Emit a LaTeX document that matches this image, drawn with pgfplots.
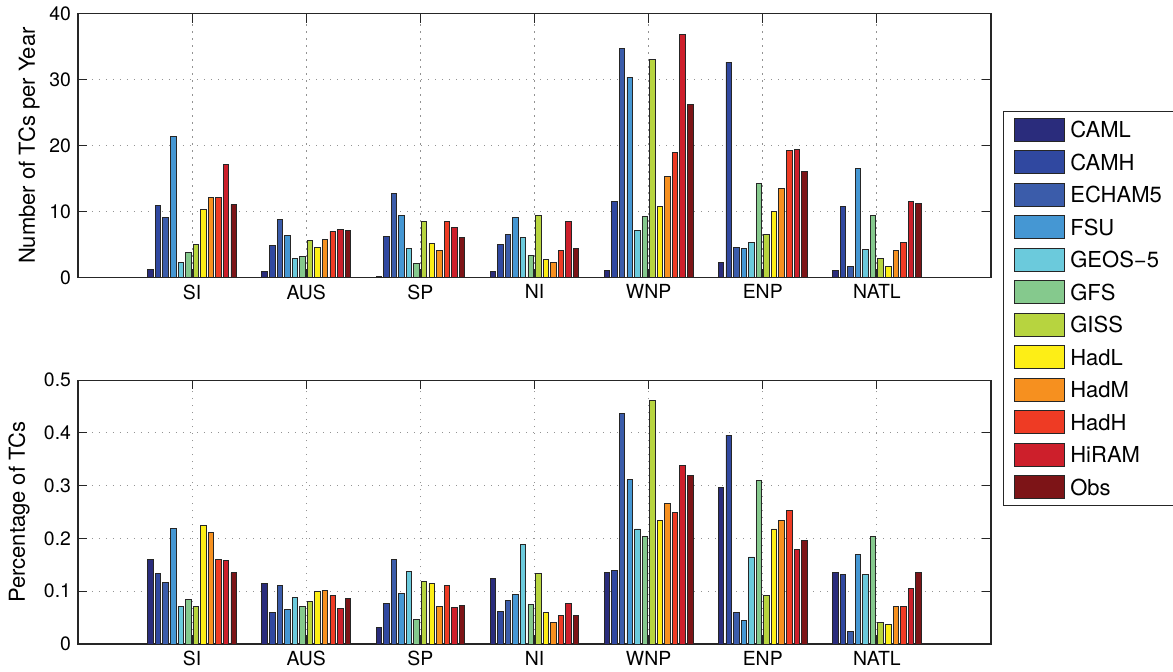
\documentclass[border=0pt]{standalone}
\usepackage{fontspec}
\setmainfont{TeX Gyre Heros}
\usepackage{pgfplots}
\usepackage{pgfplotstable}
\pgfplotsset{compat=1.18}

\definecolor{cCAML}{HTML}{2A2C7C}
\definecolor{cCAMH}{HTML}{3048A0}
\definecolor{cECHAM}{HTML}{3B5CAA}
\definecolor{cFSU}{HTML}{4597D3}
\definecolor{cGEOS}{HTML}{6BCADC}
\definecolor{cGFS}{HTML}{85C98D}
\definecolor{cGISS}{HTML}{B7D43F}
\definecolor{cHadL}{HTML}{FDEE16}
\definecolor{cHadM}{HTML}{F6901F}
\definecolor{cHadH}{HTML}{EE3B24}
\definecolor{cHiRAM}{HTML}{CD1F2B}
\definecolor{cObs}{HTML}{7D1417}

\pgfplotstableread{
cat CAML CAMH ECHAM FSU GEOS GFS GISS HadL HadM HadH HiRAM Obs
1 1.27 10.9 9.16 21.4 2.28 3.8 5.0 10.3 12.15 12.2 17.2 11.1
2 0.9 4.9 8.86 6.38 2.9 3.24 5.67 4.56 5.77 7.0 7.3 7.14
3 0.2 6.23 12.76 9.37 4.46 2.13 8.46 5.16 4.1 8.46 7.54 6.08
4 0.96 5.0 6.48 9.16 6.13 3.4 9.47 2.73 2.28 4.1 8.46 4.46
5 1.06 11.54 34.8 30.4 7.14 9.27 33.0 10.73 15.34 19.0 36.9 26.3
6 2.33 32.66 4.6 4.35 5.37 14.28 6.48 10.03 13.47 19.29 19.44 16.1
7 1.06 10.78 1.72 16.56 4.25 9.37 2.89 1.67 4.1 5.32 11.54 11.24
}\counts

\pgfplotstableread{
cat CAML CAMH ECHAM FSU GEOS GFS GISS HadL HadM HadH HiRAM Obs
1 0.161 0.134 0.116 0.219 0.071 0.084 0.0715 0.225 0.211 0.160 0.158 0.135
2 0.115 0.060 0.111 0.065 0.089 0.0715 0.080 0.100 0.101 0.092 0.067 0.087
3 0.031 0.076 0.160 0.096 0.138 0.046 0.119 0.115 0.071 0.111 0.069 0.073
4 0.125 0.061 0.082 0.094 0.188 0.075 0.134 0.060 0.040 0.054 0.077 0.054
5 0.135 0.140 0.437 0.311 0.218 0.203 0.462 0.234 0.267 0.249 0.339 0.320
6 0.296 0.396 0.059 0.045 0.165 0.310 0.092 0.218 0.234 0.253 0.179 0.196
7 0.135 0.132 0.023 0.170 0.132 0.204 0.041 0.037 0.071 0.071 0.106 0.136
}\pcts

\pgfplotsset{
  mybars/.style={
    scale only axis, width=456.5pt, height=131.9pt,
    anchor=south west,
    xmin=0, xmax=8, xtick={1,2,3,4,5,6,7},
    xticklabels={SI,AUS,SP,NI,WNP,ENP,NATL},
    ybar=1.03pt, bar width=2.75pt,
    ymin=0,
    grid=major,
    major grid style={gray!85, line width=0.5pt, dash pattern=on 0.6pt off 2.9pt},
    tick align=inside, major tick length=4.4pt,
    tick style={black!85, line width=0.5pt},
    axis line style={black!85, line width=0.6pt},
    ticklabel style={font=\fontsize{9.7}{11}\selectfont},
    /pgf/number format/assume math mode=true,
    ylabel style={font=\fontsize{11}{13}\selectfont, anchor=center},
    every axis plot/.append style={draw=black!85, line width=0.45pt},
    legend image code/.code={\draw[#1, line width=0.45pt] (0pt,-4.8pt) rectangle (25pt,6.7pt);},
  }
}

\begin{document}
\begin{tikzpicture}
\useasboundingbox (0,0) rectangle (586.5pt,335.5pt);

\begin{axis}[mybars, at={(39pt,196.75pt)},
  ymax=40, ytick={0,10,20,30,40}, yticklabels={0,10,20,30,40},
  ylabel={Number of TCs per Year},
  ylabel style={at={(axis description cs:-0.0537,0.5)}},
  legend style={at={(1.0131,0.6300)}, anchor=north west,
    draw=black!85, line width=0.5pt, inner xsep=5.5pt, inner ysep=3pt,
    row sep=4.3pt, font=\fontsize{11}{13}\selectfont,
    cells={anchor=west},
    nodes={inner sep=0pt, text width=46pt, text height=8pt, text depth=2pt},
    /tikz/every odd column/.append style={column sep=2.5pt}},
]
\addplot[fill=cCAML]  table[x=cat, y=CAML]  {\counts};
\addplot[fill=cCAMH]  table[x=cat, y=CAMH]  {\counts};
\addplot[fill=cECHAM] table[x=cat, y=ECHAM] {\counts};
\addplot[fill=cFSU]   table[x=cat, y=FSU]   {\counts};
\addplot[fill=cGEOS]  table[x=cat, y=GEOS]  {\counts};
\addplot[fill=cGFS]   table[x=cat, y=GFS]   {\counts};
\addplot[fill=cGISS]  table[x=cat, y=GISS]  {\counts};
\addplot[fill=cHadL]  table[x=cat, y=HadL]  {\counts};
\addplot[fill=cHadM]  table[x=cat, y=HadM]  {\counts};
\addplot[fill=cHadH]  table[x=cat, y=HadH]  {\counts};
\addplot[fill=cHiRAM] table[x=cat, y=HiRAM] {\counts};
\addplot[fill=cObs]   table[x=cat, y=Obs]   {\counts};
\legend{CAML,CAMH,ECHAM5,FSU,GEOS−5,GFS,GISS,HadL,HadM,HadH,HiRAM,Obs}
\end{axis}

\begin{axis}[mybars, at={(39pt,13.5pt)},
  ymax=0.5, ytick={0,0.1,0.2,0.3,0.4,0.5}, yticklabels={0,0.1,0.2,0.3,0.4,0.5},
  ylabel={Percentage of TCs},
  ylabel style={at={(axis description cs:-0.0646,0.5)}},
]
\addplot[fill=cCAML]  table[x=cat, y=CAML]  {\pcts};
\addplot[fill=cCAMH]  table[x=cat, y=CAMH]  {\pcts};
\addplot[fill=cECHAM] table[x=cat, y=ECHAM] {\pcts};
\addplot[fill=cFSU]   table[x=cat, y=FSU]   {\pcts};
\addplot[fill=cGEOS]  table[x=cat, y=GEOS]  {\pcts};
\addplot[fill=cGFS]   table[x=cat, y=GFS]   {\pcts};
\addplot[fill=cGISS]  table[x=cat, y=GISS]  {\pcts};
\addplot[fill=cHadL]  table[x=cat, y=HadL]  {\pcts};
\addplot[fill=cHadM]  table[x=cat, y=HadM]  {\pcts};
\addplot[fill=cHadH]  table[x=cat, y=HadH]  {\pcts};
\addplot[fill=cHiRAM] table[x=cat, y=HiRAM] {\pcts};
\addplot[fill=cObs]   table[x=cat, y=Obs]   {\pcts};
\end{axis}
\end{tikzpicture}
\end{document}
